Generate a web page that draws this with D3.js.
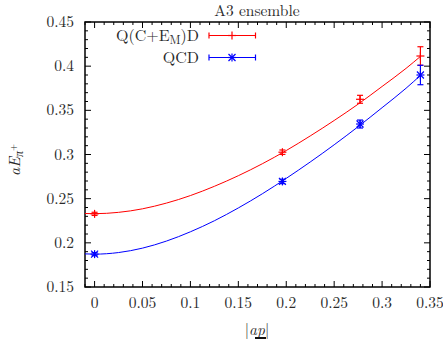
<!DOCTYPE html>
<html>
<head>
<meta charset="utf-8">
<script src="https://cdn.jsdelivr.net/npm/d3@7"></script>
<style>
  body { margin: 0; background: #fff; }
</style>
</head>
<body>
<div id="chart"></div>
<script>
// data
const momenta = [0, 0.196, 0.277, 0.340];
const qcedValues = [0.2328, 0.3026, 0.3625, 0.4115];
const qcedErrors = [0.0018, 0.0025, 0.0045, 0.0105];
const qcdValues = [0.1872, 0.2695, 0.3345, 0.3900];
const qcdErrors = [0.0018, 0.0025, 0.0045, 0.0110];

// fit curves
const fitX = [-0.01, 0, 0.025, 0.05, 0.075, 0.1, 0.125, 0.15, 0.175, 0.2, 0.225, 0.25, 0.275, 0.3, 0.325, 0.34];
const qcedFit = [0.2332, 0.2330, 0.2345, 0.2385, 0.2450, 0.2535, 0.2640, 0.2760, 0.2895, 0.3045, 0.3210, 0.3385, 0.3570, 0.3770, 0.3975, 0.4110];
const qcdFit = [0.1875, 0.1872, 0.1890, 0.1940, 0.2020, 0.2125, 0.2250, 0.2395, 0.2555, 0.2730, 0.2915, 0.3110, 0.3315, 0.3530, 0.3750, 0.3895];

const xTicks = [0, 0.05, 0.1, 0.15, 0.2, 0.25, 0.3, 0.35];
const yTicks = [0.15, 0.2, 0.25, 0.3, 0.35, 0.4, 0.45];

const width = 443, height = 344;
const margin = { top: 22, right: 13, bottom: 57, left: 85 };
const serif = "'Latin Modern Roman', 'Liberation Serif', serif";
const textColor = "#2a2a2a";

const svg = d3.select("#chart").append("svg")
    .attr("width", width)
    .attr("height", height)
    .attr("font-family", serif);

const x = d3.scaleLinear().domain([-0.01, 0.35]).range([margin.left, width - margin.right]);
const y = d3.scaleLinear().domain([0.15, 0.45]).range([height - margin.bottom, margin.top]);

// minor ticks every 0.01, major every 0.05, pointing inwards on all four sides
const xMinor = d3.range(-0.01, 0.3501, 0.01).map(v => +v.toFixed(2));
const yMinor = d3.range(0.15, 0.4501, 0.01).map(v => +v.toFixed(2));

const tickG = svg.append("g").attr("stroke", "#000").attr("stroke-width", 1);
const isMajor = v => Math.abs(Math.round(v * 20) - v * 20) < 1e-6;

xMinor.forEach(v => {
    const len = isMajor(v) ? 6 : 3;
    tickG.append("line").attr("x1", x(v)).attr("x2", x(v))
        .attr("y1", y(0.15)).attr("y2", y(0.15) - len);
    tickG.append("line").attr("x1", x(v)).attr("x2", x(v))
        .attr("y1", y(0.45)).attr("y2", y(0.45) + len);
});
yMinor.forEach(v => {
    const len = isMajor(v) ? 6 : 3;
    tickG.append("line").attr("y1", y(v)).attr("y2", y(v))
        .attr("x1", x(-0.01)).attr("x2", x(-0.01) + len);
    tickG.append("line").attr("y1", y(v)).attr("y2", y(v))
        .attr("x1", x(0.35)).attr("x2", x(0.35) - len);
});

// tick labels
svg.append("g").selectAll("text").data(xTicks).enter().append("text")
    .attr("x", d => x(d))
    .attr("y", 308)
    .attr("text-anchor", "middle")
    .attr("fill", textColor)
    .style("font-size", "15.5px")
    .text(d => d);

svg.append("g").selectAll("text").data(yTicks).enter().append("text")
    .attr("x", 74)
    .attr("y", d => y(d) + 5)
    .attr("text-anchor", "end")
    .attr("fill", textColor)
    .style("font-size", "15.5px")
    .text(d => d);

// frame
svg.append("rect")
    .attr("x", x(-0.01)).attr("y", y(0.45))
    .attr("width", x(0.35) - x(-0.01))
    .attr("height", y(0.15) - y(0.45))
    .attr("fill", "none")
    .attr("stroke", "#000")
    .attr("stroke-width", 1.5);

// title and axis labels
svg.append("text")
    .attr("x", 257).attr("y", 16)
    .attr("text-anchor", "middle")
    .attr("fill", textColor)
    .style("font-size", "15.5px")
    .text("A3 ensemble");

const xl = svg.append("text")
    .attr("x", 257).attr("y", 335)
    .attr("text-anchor", "middle")
    .attr("fill", textColor)
    .style("font-size", "15.5px");
xl.append("tspan").text("|");
xl.append("tspan").style("font-style", "italic").text("ap");
xl.append("tspan").text("|");
svg.append("rect")
    .attr("x", 255).attr("y", 337)
    .attr("width", 11).attr("height", 2)
    .attr("fill", "#111");

const yl = svg.append("text")
    .attr("transform", "translate(20,160) rotate(-90)")
    .attr("text-anchor", "middle")
    .attr("fill", textColor)
    .style("font-size", "16px");
yl.append("tspan").style("font-style", "italic").text("aE");
yl.append("tspan").style("font-style", "italic").style("font-size", "12px").attr("dy", 3).text("π");
yl.append("tspan").style("font-size", "9px").attr("dy", -7).text("+");

// fit curves
const line = d3.line().curve(d3.curveMonotoneX);
svg.append("clipPath").attr("id", "clip").append("rect")
    .attr("x", x(-0.01)).attr("y", y(0.45))
    .attr("width", x(0.35) - x(-0.01)).attr("height", y(0.15) - y(0.45));

svg.append("path")
    .attr("d", line(fitX.map((v, i) => [x(v), y(qcedFit[i])])))
    .attr("fill", "none").attr("stroke", "#f00").attr("stroke-width", 1)
    .attr("clip-path", "url(#clip)");
svg.append("path")
    .attr("d", line(fitX.map((v, i) => [x(v), y(qcdFit[i])])))
    .attr("fill", "none").attr("stroke", "#00f").attr("stroke-width", 1)
    .attr("clip-path", "url(#clip)");

// markers
function plus(g, cx, cy, color) {
    g.append("line").attr("x1", cx - 4).attr("x2", cx + 4).attr("y1", cy).attr("y2", cy)
        .attr("stroke", color).attr("stroke-width", 1.2);
    g.append("line").attr("x1", cx).attr("x2", cx).attr("y1", cy - 4).attr("y2", cy + 4)
        .attr("stroke", color).attr("stroke-width", 1.2);
}
function star(g, cx, cy, color) {
    plus(g, cx, cy, color);
    g.append("line").attr("x1", cx - 3.5).attr("x2", cx + 3.5).attr("y1", cy - 3.5).attr("y2", cy + 3.5)
        .attr("stroke", color).attr("stroke-width", 1.2);
    g.append("line").attr("x1", cx - 3.5).attr("x2", cx + 3.5).attr("y1", cy + 3.5).attr("y2", cy - 3.5)
        .attr("stroke", color).attr("stroke-width", 1.2);
}

function errorBars(values, errors, color, marker) {
    const g = svg.append("g");
    momenta.forEach((p, i) => {
        const cx = x(p);
        const top = y(values[i] + errors[i]), bot = y(values[i] - errors[i]);
        g.append("line").attr("x1", cx).attr("x2", cx).attr("y1", top).attr("y2", bot)
            .attr("stroke", color).attr("stroke-width", 1.2);
        [top, bot].forEach(yy => g.append("line")
            .attr("x1", cx - 3).attr("x2", cx + 3).attr("y1", yy).attr("y2", yy)
            .attr("stroke", color).attr("stroke-width", 1.2));
        marker(g, cx, y(values[i]), color);
    });
}
errorBars(qcedValues, qcedErrors, "#f00", plus);
errorBars(qcdValues, qcdErrors, "#00f", star);

// legend
const legend = [
    { y: 35.5, color: "#f00", marker: plus },
    { y: 57.5, color: "#00f", marker: star }
];
legend.forEach(d => {
    const g = svg.append("g");
    g.append("line").attr("x1", 209).attr("x2", 255.5).attr("y1", d.y).attr("y2", d.y)
        .attr("stroke", d.color).attr("stroke-width", 1.2);
    [209, 255.5].forEach(xx => g.append("line")
        .attr("x1", xx).attr("x2", xx).attr("y1", d.y - 3).attr("y2", d.y + 3)
        .attr("stroke", d.color).attr("stroke-width", 1.2));
    d.marker(g, 232, d.y, d.color);
});

const l1 = svg.append("text").attr("x", 199).attr("y", 40.5)
    .attr("text-anchor", "end").attr("fill", textColor).style("font-size", "16px");
l1.append("tspan").text("Q(C+E");
l1.append("tspan").style("font-size", "12px").attr("dy", 3).text("M");
l1.append("tspan").attr("dy", -3).text(")D");

svg.append("text").attr("x", 199).attr("y", 62.5)
    .attr("text-anchor", "end").attr("fill", textColor).style("font-size", "16px")
    .text("QCD");
</script>
</body>
</html>
